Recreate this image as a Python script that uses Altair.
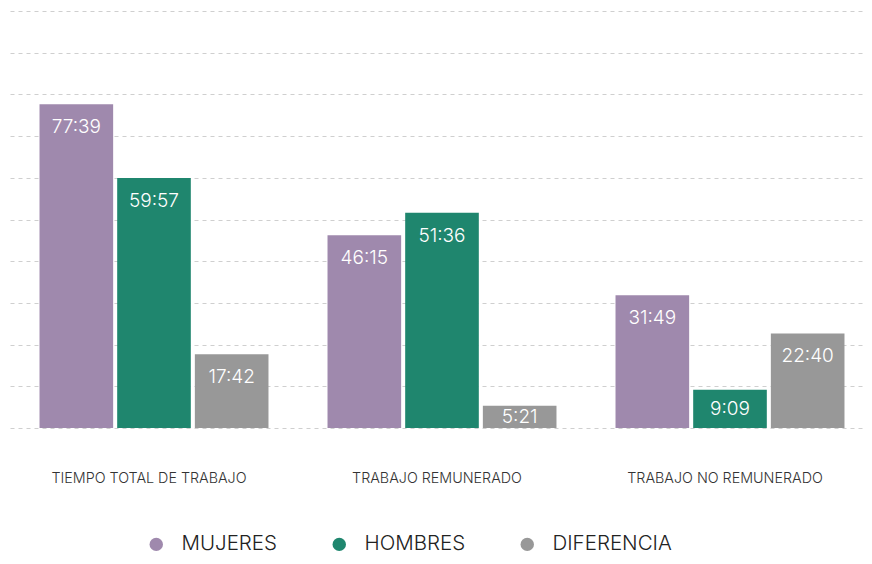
import altair as alt
import pandas as pd

categories = ["TIEMPO TOTAL DE TRABAJO", "TRABAJO REMUNERADO", "TRABAJO NO REMUNERADO"]
series = ["MUJERES", "HOMBRES", "DIFERENCIA"]
mujeres = ["77:39", "46:15", "31:49"]
hombres = ["59:57", "51:36", "9:09"]
diferencia = ["17:42", "5:21", "22:40"]
colors = ["#9f89ad", "#1f866e", "#989898"]

def to_hours(s):
    h, m = s.split(":")
    return int(h) + int(m) / 60.0

PX_PER_HOUR = 417 / 100.0
LABEL_OFFSET_PX = 23

rows = []
for name, vals in zip(series, [mujeres, hombres, diferencia]):
    for cat, v in zip(categories, vals):
        h = to_hours(v)
        off = min(LABEL_OFFSET_PX / PX_PER_HOUR, h / 2)
        rows.append({"cat": cat, "serie": name, "label": v, "value": h,
                     "label_pos": h - off})
df = pd.DataFrame(rows)

FONT = "Inter"

x = alt.X("cat:N", sort=categories, title=None,
          scale=alt.Scale(paddingInner=0, paddingOuter=0, range=[-2, 862]),
          axis=alt.Axis(labelAngle=0, domain=False, ticks=False, labelPadding=43,
                        labelFontSize=14.3, labelColor="#333", labelFont=FONT,
                        labelFontWeight=300, labelLimit=0, labelOffset=-5))
xo = alt.XOffset("serie:N", sort=series,
                 scale=alt.Scale(paddingInner=0.052, paddingOuter=0.38))
y = alt.Y("value:Q", title=None,
          scale=alt.Scale(domain=[0, 100], nice=False),
          axis=alt.Axis(values=list(range(0, 101, 10)), labels=False, domain=False,
                        ticks=False, grid=True, gridColor="#cfcfcf",
                        gridDash=[4, 4], gridWidth=1))

bars = alt.Chart(df).mark_bar().encode(
    x=x, xOffset=xo, y=y,
    color=alt.Color("serie:N", sort=series,
                    scale=alt.Scale(domain=series, range=colors),
                    legend=alt.Legend(title=None, orient="none", direction="horizontal",
                                      legendX=134, legendY=523,
                                      symbolType="circle", symbolSize=180,
                                      symbolStrokeWidth=0,
                                      labelFontSize=20.5, labelFont=FONT,
                                      labelFontWeight=300,
                                      labelColor="#222", labelOffset=15,
                                      columnPadding=51, labelLimit=0))
)

text = alt.Chart(df).mark_text(color="white", fontSize=19, font=FONT,
                               fontWeight=300, baseline="middle").encode(
    x=alt.X("cat:N", sort=categories), xOffset=alt.XOffset("serie:N", sort=series),
    y="label_pos:Q", text="label:N"
)

chart = (bars + text).properties(
    width=852, height=417,
    autosize=alt.AutoSizeParams(type="none"),
    padding={"left": 4, "top": 3, "right": 0, "bottom": 128},
).configure_view(stroke=None)

chart.save("out.html", embed_options={"renderer": "svg", "actions": False})
